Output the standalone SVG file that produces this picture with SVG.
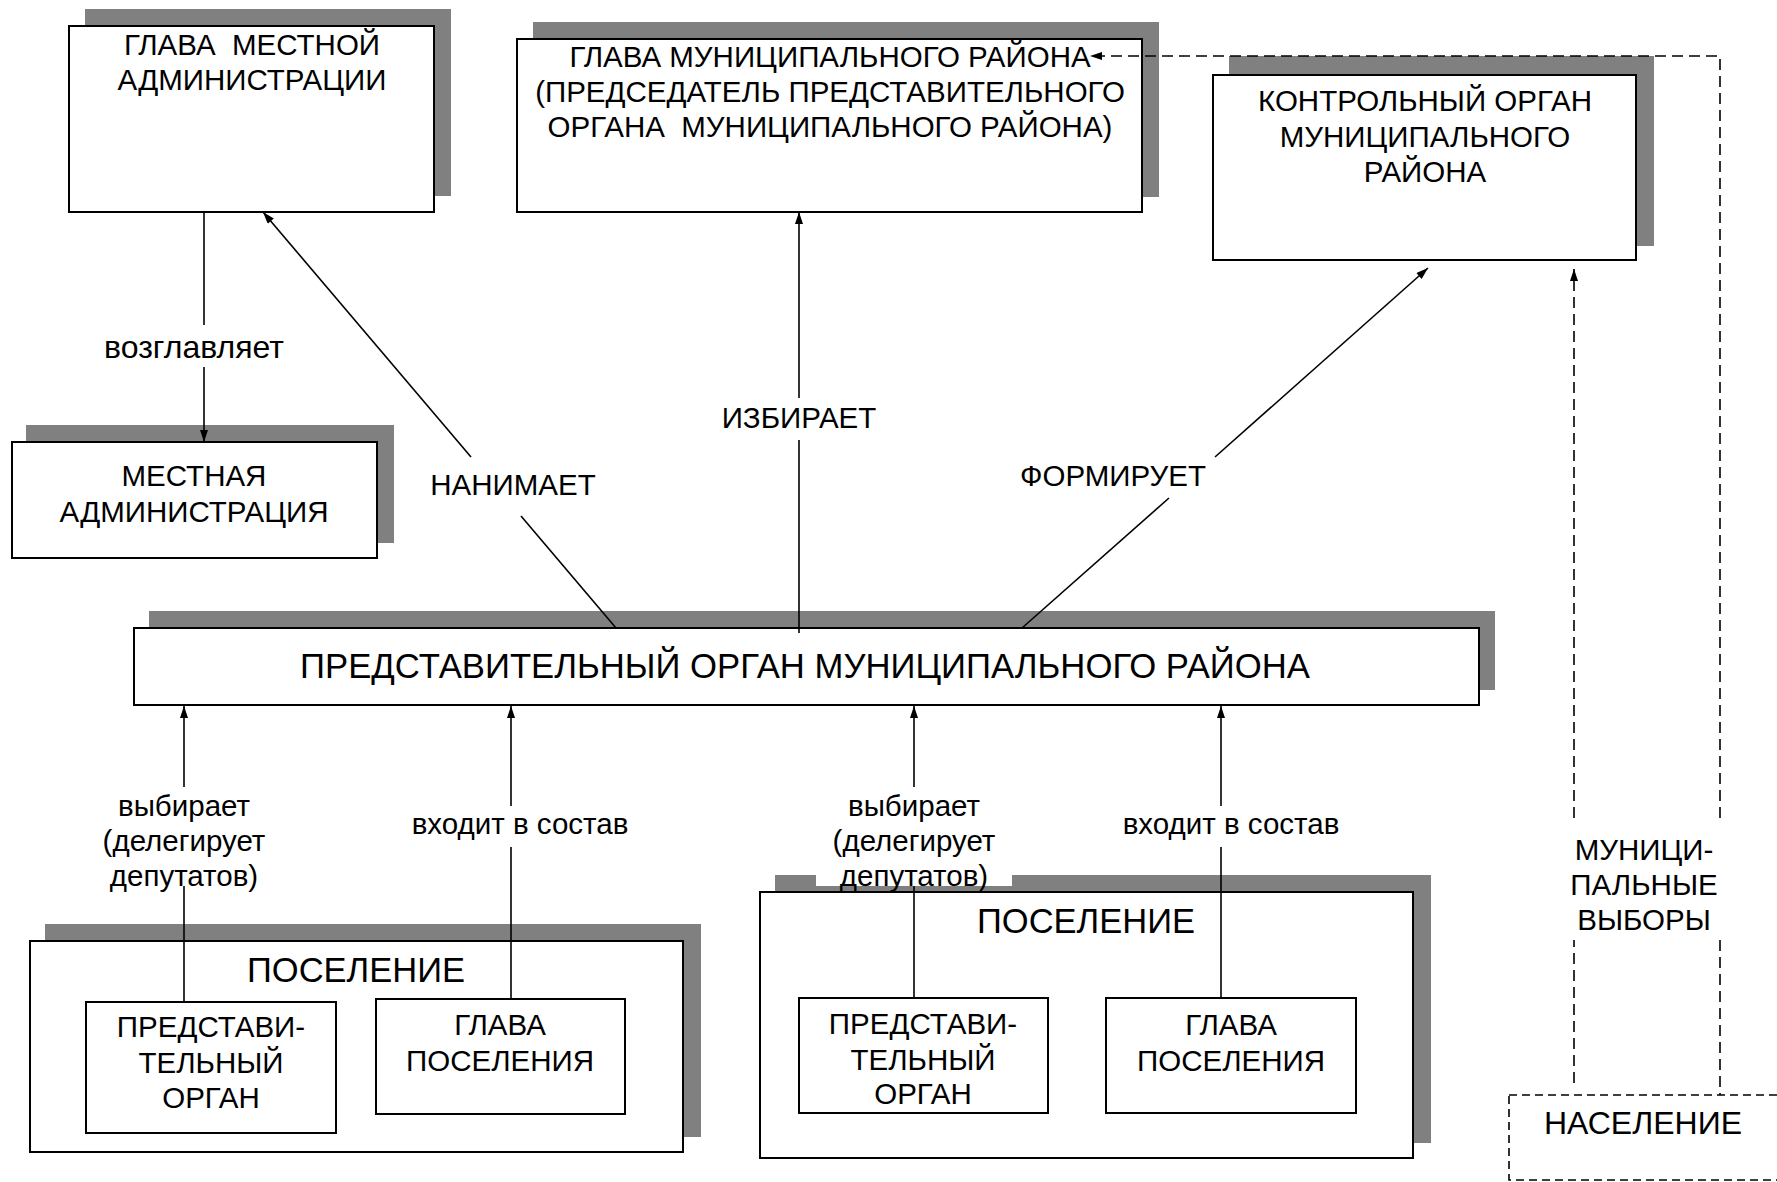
<svg xmlns="http://www.w3.org/2000/svg" width="1777" height="1182" viewBox="0 0 1777 1182">
<style>
  .sh { fill: #808080; stroke: none; }
  .bx { fill: #ffffff; stroke: #000000; stroke-width: 2; }
  .t { font-family: "Liberation Sans", Arial, sans-serif; fill: #000000; text-anchor: middle; }
  .f28 { font-size: 29.5px; }
  .f29 { font-size: 29.5px; }
  .f32 { font-size: 32px; }
  .f33 { font-size: 34.5px; }
  .f35 { font-size: 34.7px; }
  .ln { stroke: #000000; stroke-width: 1.6; fill: none; }
  .dl { stroke: #000000; stroke-width: 1.6; fill: none; stroke-dasharray: 11 6; }
  .db { stroke: #000000; stroke-width: 1.6; fill: #ffffff; stroke-dasharray: 8 5; }
  .bg { fill: #ffffff; stroke: none; }
</style>
<defs>
  <marker id="arr" viewBox="0 0 12 8" refX="12" refY="4" markerWidth="13" markerHeight="8" orient="auto" markerUnits="userSpaceOnUse">
    <path d="M0,0 L12,4 L0,8 z" fill="#000000"/>
  </marker>
</defs>
<rect x="0" y="0" width="1777" height="1182" fill="#ffffff"/>

<g id="glava-mestnoy-administracii">
  <rect class="sh" x="85" y="9" width="366" height="187"/>
  <rect class="bx" x="69" y="26" width="365" height="186"/>
  <text class="t f28" x="252" y="55" xml:space="preserve">ГЛАВА  МЕСТНОЙ</text>
  <text class="t f28" x="252" y="90">АДМИНИСТРАЦИИ</text>
</g>

<g id="mestnaya-administraciya">
  <rect class="sh" x="26" y="425" width="368" height="118"/>
  <rect class="bx" x="12" y="442" width="365" height="116"/>
  <text class="t f28" x="194" y="486">МЕСТНАЯ</text>
  <text class="t f28" x="194" y="522">АДМИНИСТРАЦИЯ</text>
</g>

<g id="glava-municipalnogo-rayona">
  <rect class="sh" x="533" y="22" width="626" height="175"/>
  <rect class="bx" x="517" y="39" width="625" height="173"/>
  <text class="t f28" x="830" y="67">ГЛАВА МУНИЦИПАЛЬНОГО РАЙОНА</text>
  <text class="t f28" x="830" y="102">(ПРЕДСЕДАТЕЛЬ ПРЕДСТАВИТЕЛЬНОГО</text>
  <text class="t f28" x="830" y="137" xml:space="preserve">ОРГАНА  МУНИЦИПАЛЬНОГО РАЙОНА)</text>
</g>

<g id="kontrolny-organ">
  <rect class="sh" x="1229" y="56" width="425" height="190"/>
  <rect class="bx" x="1213" y="75" width="423" height="185"/>
  <text class="t f28" x="1425" y="111">КОНТРОЛЬНЫЙ ОРГАН</text>
  <text class="t f28" x="1425" y="147">МУНИЦИПАЛЬНОГО</text>
  <text class="t f28" x="1425" y="182">РАЙОНА</text>
</g>

<g id="predstavitelny-organ-rayona">
  <rect class="sh" x="149" y="611" width="1346" height="79"/>
  <rect class="bx" x="134" y="628" width="1345" height="77"/>
  <text class="t f35" x="805" y="678">ПРЕДСТАВИТЕЛЬНЫЙ ОРГАН МУНИЦИПАЛЬНОГО РАЙОНА</text>
</g>

<g id="poselenie-1">
  <rect class="sh" x="45" y="924" width="656" height="213"/>
  <rect class="bx" x="30" y="941" width="653" height="211"/>
  <text class="t f33" x="356" y="982">ПОСЕЛЕНИЕ</text>
  <g id="poselenie-1-predstavitelny">
    <rect class="bx" x="86" y="1002" width="250" height="131"/>
    <text class="t f29" x="211" y="1037">ПРЕДСТАВИ-</text>
    <text class="t f29" x="211" y="1073">ТЕЛЬНЫЙ</text>
    <text class="t f29" x="211" y="1108">ОРГАН</text>
  </g>
  <g id="poselenie-1-glava">
    <rect class="bx" x="376" y="999" width="249" height="115"/>
    <text class="t f29" x="500" y="1035">ГЛАВА</text>
    <text class="t f29" x="500" y="1071">ПОСЕЛЕНИЯ</text>
  </g>
</g>

<g id="poselenie-2">
  <rect class="sh" x="775" y="875" width="656" height="268"/>
  <rect class="bx" x="760" y="892" width="653" height="266"/>
  <text class="t f33" x="1086" y="933">ПОСЕЛЕНИЕ</text>
  <g id="poselenie-2-predstavitelny">
    <rect class="bx" x="799" y="998" width="249" height="115"/>
    <text class="t f29" x="923" y="1034">ПРЕДСТАВИ-</text>
    <text class="t f29" x="923" y="1070">ТЕЛЬНЫЙ</text>
    <text class="t f29" x="923" y="1104">ОРГАН</text>
  </g>
  <g id="poselenie-2-glava">
    <rect class="bx" x="1106" y="998" width="250" height="115"/>
    <text class="t f29" x="1231" y="1035">ГЛАВА</text>
    <text class="t f29" x="1231" y="1071">ПОСЕЛЕНИЯ</text>
  </g>
</g>

<g id="naselenie">
  <rect class="db" x="1509" y="1095" width="290" height="85"/>
  <text class="t f32" x="1643" y="1134">НАСЕЛЕНИЕ</text>
</g>

<g id="label-backgrounds">
  <rect class="bg" x="86" y="790" width="196" height="96"/>
  <rect class="bg" x="816" y="790" width="196" height="96"/>
</g>

<g id="connectors">
  <line class="ln" x1="204" y1="212" x2="204" y2="325"/>
  <line class="ln" x1="204" y1="367" x2="204" y2="442" marker-end="url(#arr)"/>
  <line class="ln" x1="616" y1="628" x2="521" y2="516"/>
  <line class="ln" x1="471" y1="457" x2="263" y2="212" marker-end="url(#arr)"/>
  <line class="ln" x1="799" y1="633" x2="799" y2="440"/>
  <line class="ln" x1="799" y1="398" x2="799" y2="212" marker-end="url(#arr)"/>
  <line class="ln" x1="1022" y1="628" x2="1169" y2="498"/>
  <line class="ln" x1="1215" y1="457" x2="1428" y2="268" marker-end="url(#arr)"/>
  <line class="ln" x1="184" y1="1002" x2="184" y2="886"/>
  <line class="ln" x1="184" y1="787" x2="184" y2="706" marker-end="url(#arr)"/>
  <line class="ln" x1="511" y1="999" x2="511" y2="847"/>
  <line class="ln" x1="511" y1="806" x2="511" y2="706" marker-end="url(#arr)"/>
  <line class="ln" x1="914" y1="998" x2="914" y2="886"/>
  <line class="ln" x1="914" y1="787" x2="914" y2="706" marker-end="url(#arr)"/>
  <line class="ln" x1="1221" y1="998" x2="1221" y2="847"/>
  <line class="ln" x1="1221" y1="806" x2="1221" y2="706" marker-end="url(#arr)"/>
  <path class="dl" d="M1720,818 V56 H1090" marker-end="url(#arr)"/>
  <line class="dl" x1="1720" y1="940" x2="1720" y2="1095"/>
  <line class="dl" x1="1574" y1="1083" x2="1574" y2="940"/>
  <line class="dl" x1="1574" y1="818" x2="1574" y2="269" marker-end="url(#arr)"/>
</g>

<g id="labels">
  <text class="t f32" x="194" y="358">возглавляет</text>
  <text class="t f28" x="513" y="495">НАНИМАЕТ</text>
  <text class="t f28" x="799" y="428">ИЗБИРАЕТ</text>
  <text class="t f28" x="1113" y="486">ФОРМИРУЕТ</text>
  <text class="t f28" x="184" y="816">выбирает</text>
  <text class="t f28" x="184" y="851">(делегирует</text>
  <text class="t f28" x="184" y="886">депутатов)</text>
  <text class="t f28" x="520" y="834">входит в состав</text>
  <text class="t f28" x="914" y="816">выбирает</text>
  <text class="t f28" x="914" y="851">(делегирует</text>
  <text class="t f28" x="914" y="886">депутатов)</text>
  <text class="t f28" x="1231" y="834">входит в состав</text>
  <text class="t f28" x="1644" y="860">МУНИЦИ-</text>
  <text class="t f28" x="1644" y="895">ПАЛЬНЫЕ</text>
  <text class="t f28" x="1644" y="930">ВЫБОРЫ</text>
</g>
</svg>
